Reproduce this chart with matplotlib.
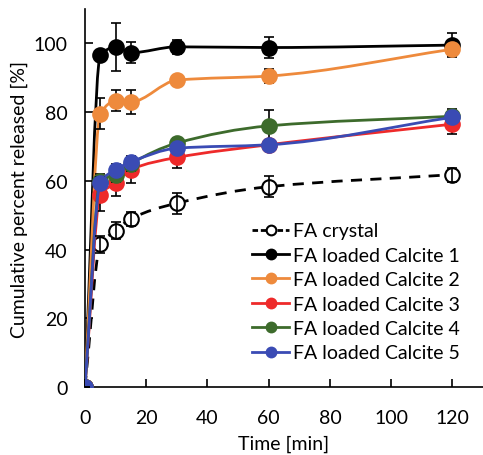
import numpy as np
import matplotlib
matplotlib.use("Agg")
import matplotlib.pyplot as plt
from matplotlib.path import Path
from matplotlib.patches import PathPatch

plt.rcParams["font.family"] = ["Lato", "DejaVu Sans"]

# release data (time in min, cumulative % released)
time = [0, 5, 10, 15, 30, 60, 120]
labels = ["FA crystal", "FA loaded Calcite 1", "FA loaded Calcite 2",
          "FA loaded Calcite 3", "FA loaded Calcite 4", "FA loaded Calcite 5"]
crystal = [0, 41.5, 45.5, 49.0, 53.5, 58.3, 61.8]
crystal_err = [0, 2.5, 2.5, 2.0, 3.0, 3.0, 2.0]
calc1 = [0, 96.5, 99.0, 97.3, 99.0, 98.8, 99.5]
calc1_err = [0, 0, 7.0, 3.0, 2.0, 3.0, 3.5]
calc2 = [0, 79.5, 83.3, 83.0, 89.3, 90.5, 98.3]
calc2_err = [0, 4.5, 3.0, 3.5, 1.0, 2.0, 2.0]
calc3 = [0, 55.8, 59.5, 63.3, 66.8, 70.5, 76.5]
calc3_err = [0, 4.5, 4.0, 4.0, 3.0, 1.5, 3.0]
calc4 = [0, 60.0, 61.8, 65.0, 71.0, 76.0, 78.8]
calc4_err = [0, 2.0, 2.0, 2.0, 1.5, 4.5, 2.0]
calc5 = [0, 59.5, 63.3, 65.5, 69.5, 70.5, 78.5]
calc5_err = [0, 1.5, 1.5, 1.5, 1.5, 1.5, 1.5]

series = [crystal, calc1, calc2, calc3, calc4, calc5]
errors = [crystal_err, calc1_err, calc2_err, calc3_err, calc4_err, calc5_err]
colors = ["black", "black", "#ee8a3c", "#ee2a2a", "#3d6b2c", "#3a4bb4"]


def smooth_path(x, y):
    # smoothed line through the points, monotone Hermite slopes -> Bezier
    x = np.asarray(x, float)
    y = np.asarray(y, float)
    h = np.diff(x)
    d = np.diff(y) / h
    m = np.zeros_like(y)
    m[0], m[-1] = d[0], d[-1]
    for i in range(1, len(x) - 1):
        if d[i - 1] * d[i] > 0:
            w1, w2 = 2 * h[i] + h[i - 1], h[i] + 2 * h[i - 1]
            m[i] = (w1 + w2) / (w1 / d[i - 1] + w2 / d[i])
    verts = [(x[0], y[0])]
    codes = [Path.MOVETO]
    for i in range(len(x) - 1):
        verts += [(x[i] + h[i] / 3, y[i] + m[i] * h[i] / 3),
                  (x[i + 1] - h[i] / 3, y[i + 1] - m[i + 1] * h[i] / 3),
                  (x[i + 1], y[i + 1])]
        codes += [Path.CURVE4] * 3
    return Path(verts, codes)


fig = plt.figure(figsize=(4.83, 4.56), dpi=100)
ax = fig.add_axes([0.176, 0.149, 0.824, 0.829])

handles = []
for k, (y, e, c, lab) in enumerate(zip(series, errors, colors, labels)):
    dashed = k == 0
    z = 2 + k
    ax.add_patch(PathPatch(smooth_path(time, y), fill=False, edgecolor=c, lw=2,
                           ls=(0, (4, 3)) if dashed else "-", zorder=z,
                           transform=ax.transData))
    ax.errorbar(time, y, yerr=e, fmt="none", ecolor="black", elinewidth=1.2,
                capsize=3.5, capthick=1.2, zorder=10 if dashed else z + 0.1)
    mfc = "white" if dashed else c
    ax.plot(time, y, ls="none", marker="o", ms=10.5, mfc=mfc,
            mec="black" if dashed else c, mew=1.5, zorder=z + 0.2)
    h, = ax.plot([], [], color=c, lw=2, ls=(0, (2, 1)) if dashed else "-",
                 marker="o", ms=7, mfc=mfc, mec="black" if dashed else c, mew=1.5,
                 label=lab)
    handles.append(h)

ax.set_xlim(0, 130)
ax.set_ylim(0, 110)
ax.set_xticks(range(0, 121, 20))
ax.set_yticks(range(0, 101, 20))
ax.tick_params(direction="in", length=6, width=1.2, labelsize=14)
ax.tick_params(axis="x", pad=16)
ax.tick_params(axis="y", pad=12.5)
for s in ["top", "right"]:
    ax.spines[s].set_visible(False)
for s in ["left", "bottom"]:
    ax.spines[s].set_linewidth(1.2)
ax.set_xlabel("Time [min]", fontsize=14, labelpad=6)
ax.set_ylabel("Cumulative percent released [%]", fontsize=14, labelpad=4)

ax.legend(handles=handles, loc="upper left", bbox_to_anchor=(0.522, 0.51),
          bbox_transform=fig.transFigure, frameon=False, fontsize=14,
          handlelength=1.9, handletextpad=0.2, labelspacing=0.38,
          borderaxespad=0, borderpad=0)

fig.savefig("out.png", dpi=100)
